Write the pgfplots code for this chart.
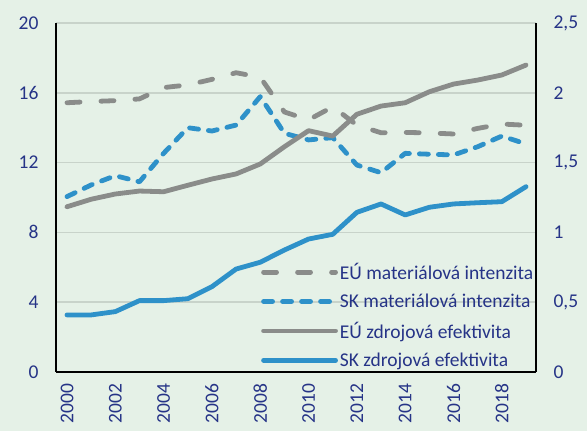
\documentclass[border=0pt]{standalone}
\usepackage{fontspec}
\setmainfont{Carlito}
\usepackage{pgfplots}
\pgfplotsset{compat=1.18}
\definecolor{bg}{HTML}{E5F1E7}
\definecolor{grd}{HTML}{C8D3CA}
\definecolor{txt}{HTML}{263487}
\definecolor{gr}{HTML}{8A8C8A}
\definecolor{bl}{HTML}{2E91C9}
\begin{document}
\begin{tikzpicture}
\path[use as bounding box, fill=bg] (-56pt,-59pt) rectangle (531pt,372pt);
\clip (-56pt,-59pt) rectangle (531pt,372pt);
\begin{axis}[
  at={(0pt,0pt)}, anchor=south west, scale only axis, width=480pt, height=349pt,
  xmin=1999.545, xmax=2019.414, ymin=0, ymax=20,
  axis x line*=bottom, axis y line*=left,
  axis line style={black, line width=1.5pt},
  xtick={2000,2002,...,2018}, ytick={0,4,...,20},
  major tick length=0pt,
  ymajorgrids, grid style={grd, line width=1.5pt},
  tick label style={font=\fontsize{19.5}{22}\selectfont, text=txt, /pgf/number format/assume math mode=true, /pgf/number format/1000 sep={}},
  x tick label style={rotate=90, anchor=east},
  xticklabel shift=8pt,
  yticklabel shift=14pt,
  legend style={draw=none, fill=none, at={(0.427,0.318)}, anchor=north west, font=\fontsize{19.5}{22}\selectfont, text=txt, inner sep=0pt, row sep=9pt, /tikz/every even column/.append style={column sep=8pt}},
  legend cell align=left,
  legend image code/.code={\draw[#1] (0pt,0pt) -- (72pt,0pt);},
]
\addplot[gr, line width=4.8pt, dash pattern=on 13pt off 21pt, line cap=round, line join=round] coordinates {
(2000,15.43)(2001,15.5)(2002,15.55)(2003,15.65)(2004,16.3)(2005,16.45)(2006,16.77)(2007,17.15)(2008,16.89)(2009,14.9)
(2010,14.45)(2011,15.2)(2012,14.15)(2013,13.71)(2014,13.73)(2015,13.7)(2016,13.64)(2017,13.96)(2018,14.21)(2019,14.14)};
\addlegendentry{EÚ materiálová intenzita}
\addplot[bl, line width=4.8pt, dash pattern=on 9pt off 10pt, line cap=round, line join=round] coordinates {
(2000,10.05)(2001,10.72)(2002,11.25)(2003,10.9)(2004,12.53)(2005,14.0)(2006,13.81)(2007,14.15)(2008,15.78)(2009,13.68)
(2010,13.3)(2011,13.43)(2012,11.86)(2013,11.42)(2014,12.53)(2015,12.48)(2016,12.44)(2017,12.91)(2018,13.52)(2019,13.07)};
\addlegendentry{SK materiálová intenzita}
\addplot[gr, line width=4.8pt, line cap=round, line join=round] coordinates {
(2000,9.47)(2001,9.9)(2002,10.2)(2003,10.37)(2004,10.33)(2005,10.7)(2006,11.06)(2007,11.35)(2008,11.92)(2009,12.91)
(2010,13.83)(2011,13.52)(2012,14.77)(2013,15.24)(2014,15.43)(2015,16.06)(2016,16.5)(2017,16.73)(2018,17.02)(2019,17.59)};
\addlegendentry{EÚ zdrojová efektivita}
\addplot[bl, line width=4.8pt, line cap=round, line join=round] coordinates {
(2000,3.27)(2001,3.27)(2002,3.46)(2003,4.09)(2004,4.09)(2005,4.2)(2006,4.89)(2007,5.9)(2008,6.29)(2009,6.99)
(2010,7.62)(2011,7.89)(2012,9.15)(2013,9.63)(2014,9.0)(2015,9.44)(2016,9.63)(2017,9.7)(2018,9.76)(2019,10.62)};
\addlegendentry{SK zdrojová efektivita}
\end{axis}
\begin{axis}[
  at={(0pt,0pt)}, anchor=south west, scale only axis, width=480pt, height=349pt,
  xmin=1999.545, xmax=2019.414, ymin=0, ymax=2.5,
  axis x line=none, axis y line*=right,
  axis line style={black, line width=1.5pt},
  ytick={0,0.5,...,2.5},
  major tick length=0pt,
  tick label style={font=\fontsize{19.5}{22}\selectfont, text=txt, /pgf/number format/assume math mode=true, /pgf/number format/use comma},
  yticklabel shift=14pt,
]
\addplot[draw=none] coordinates {(2000,0)};
\end{axis}
\end{tikzpicture}
\end{document}
